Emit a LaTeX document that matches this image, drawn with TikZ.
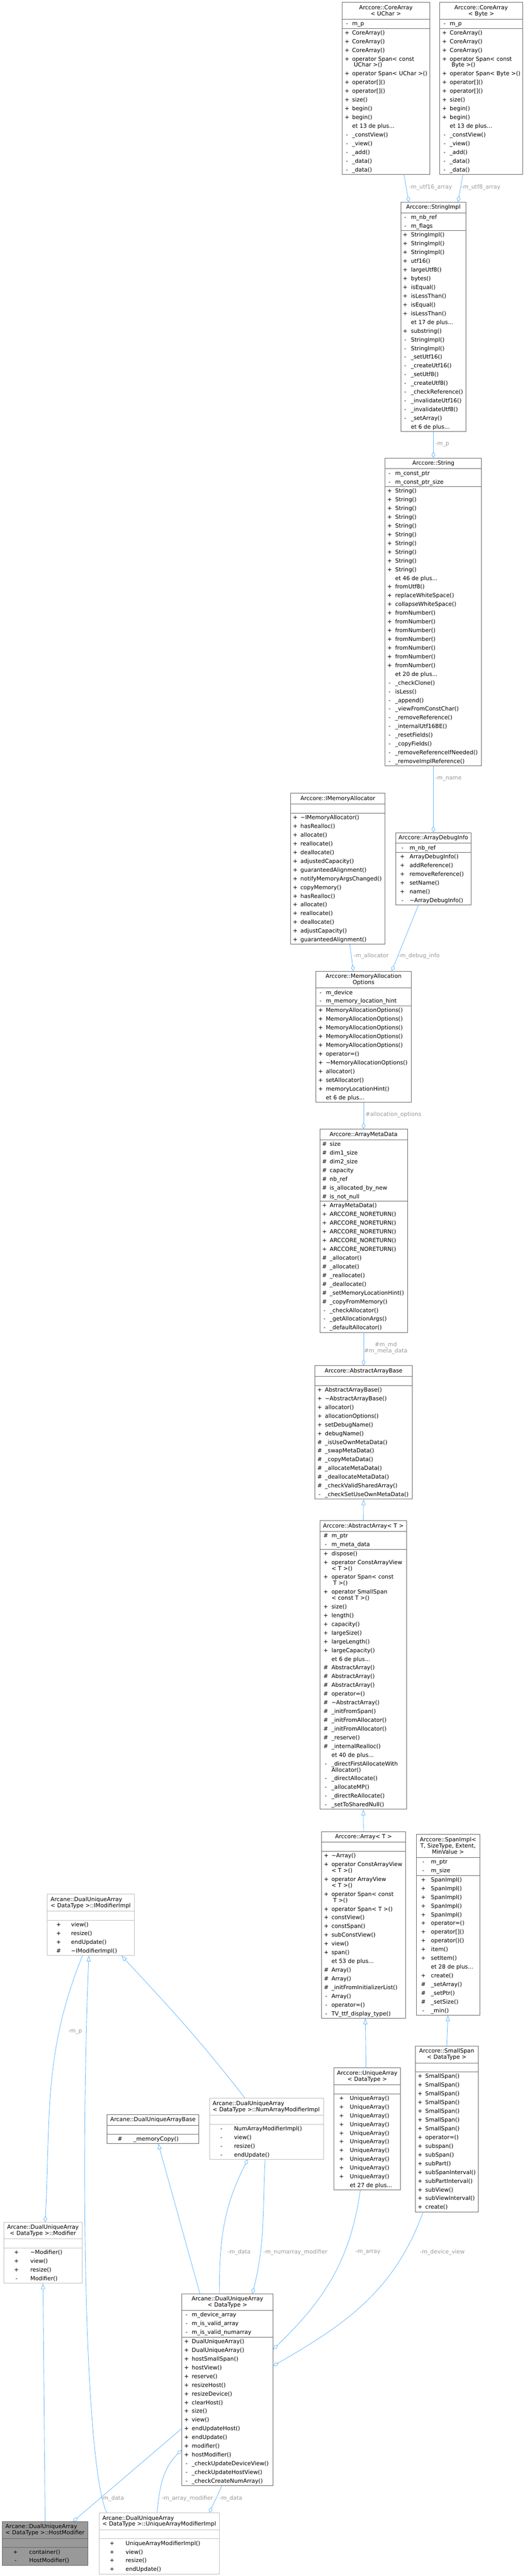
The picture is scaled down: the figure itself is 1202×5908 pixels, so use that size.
\documentclass[tikz,border=0pt]{standalone}
\usepackage{fontspec}
\setmainfont{DejaVu Sans}
\usepackage{array}
\usepackage{colortbl}
\usetikzlibrary{arrows.meta,calc}

\definecolor{edgeblue}{HTML}{63B8FF}
\definecolor{labelgray}{HTML}{9A9A9A}
\definecolor{docgray}{HTML}{666666}
\definecolor{undocgray}{HTML}{BFBFBF}
\definecolor{hostgray}{HTML}{999999}

\newdimen\pxu \pxu=0.75pt
\newlength\boxw \newlength\sgw \newlength\gapw \newlength\nmw
\setlength{\arrayrulewidth}{0.75pt}
\renewcommand{\arraystretch}{1.4286}

\newcommand{\classtab}[4]{%
  \setlength{\boxw}{#1\pxu}%
  \setlength{\sgw}{#2\pxu}\setlength{\sgw}{2\sgw}%
  \setlength{\gapw}{#3\pxu}\addtolength{\gapw}{-\sgw}%
  \setlength{\nmw}{\boxw}\addtolength{\nmw}{-#3\pxu}%
  \begin{tabular}{@{}>{\centering\arraybackslash}p{\sgw}@{\hspace{\gapw}}>{\raggedright\arraybackslash}p{\nmw}@{}}#4\end{tabular}}
\newcommand{\ttl}[1]{\multicolumn{2}{@{}>{\centering\arraybackslash}p{\boxw}@{}}{\rule{0pt}{12pt}#1\rule[-6pt]{0pt}{6pt}}\\\hline}
\newcommand{\ttll}[1]{\multicolumn{2}{@{\hspace{7.5\pxu}}>{\raggedright\arraybackslash}p{\dimexpr\boxw-7.5\pxu\relax}@{}}{\rule{0pt}{12pt}#1\rule[-6pt]{0pt}{6pt}}\\\hline}

\tikzset{
  classbox/.style={draw=docgray, line width=0.75pt, fill=white, inner sep=0pt, anchor=north west,
    font=\fontsize{9.7}{10.5}\selectfont, execute at begin node={\arrayrulecolor{docgray}}},
  undocbox/.style={classbox, draw=undocgray, execute at begin node={\arrayrulecolor{undocgray}}},
  hostbox/.style={classbox, fill=hostgray},
  inherit/.style={edgeblue, line width=0.75pt, -{Triangle[open, length=10pt, width=7pt]}},
  member/.style={edgeblue, line width=0.75pt, -{Diamond[open, length=10.5pt, width=6.5pt]}},
  edgelabel/.style={text=labelgray, font=\fontsize{9.7}{10.5}\selectfont, inner sep=0pt, anchor=west},
}

\begin{document}
\begin{tikzpicture}[x=0.75pt, y=-0.75pt]
  \useasboundingbox (0,0) rectangle (1202,5908);

  \node[classbox] (ca16) at (783,5) {\classtab{201}{11.6}{23.3}{%
    \ttl{Arccore::CoreArray\par< UChar >}
    - & m\_p\\ \hline
    + & CoreArray()\\
    + & CoreArray()\\
    + & CoreArray()\\
    + & operator Span< const\par\hspace*{4\pxu}UChar >()\\
    + & \mbox{operator Span< UChar >()}\\
    + & operator[]()\\
    + & operator[]()\\
    + & size()\\
    + & begin()\\
    + & begin()\\
      & \mbox{et 13 de plus...}\\
    - & \_constView()\\
    - & \_view()\\
    - & \_add()\\
    - & \_data()\\
    - & \_data()}};
  \node[classbox] (ca8) at (1007,5) {\classtab{190}{11}{23}{%
    \ttl{Arccore::CoreArray\par< Byte >}
    - & m\_p\\ \hline
    + & CoreArray()\\
    + & CoreArray()\\
    + & CoreArray()\\
    + & operator Span< const\par\hspace*{4\pxu}Byte >()\\
    + & \mbox{operator Span< Byte >()}\\
    + & operator[]()\\
    + & operator[]()\\
    + & size()\\
    + & begin()\\
    + & begin()\\
      & \mbox{et 13 de plus...}\\
    - & \_constView()\\
    - & \_view()\\
    - & \_add()\\
    - & \_data()\\
    - & \_data()}};
  \node[classbox] (simpl) at (918,463) {\classtab{149}{10}{23}{%
    \ttl{Arccore::StringImpl}
    - & m\_nb\_ref\\
    - & m\_flags\\ \hline
    + & StringImpl()\\
    + & StringImpl()\\
    + & StringImpl()\\
    + & utf16()\\
    + & largeUtf8()\\
    + & bytes()\\
    + & isEqual()\\
    + & isLessThan()\\
    + & isEqual()\\
    + & isLessThan()\\
      & \mbox{et 17 de plus...}\\
    + & substring()\\
    - & StringImpl()\\
    - & StringImpl()\\
    - & \_setUtf16()\\
    - & \_createUtf16()\\
    - & \_setUtf8()\\
    - & \_createUtf8()\\
    - & \_checkReference()\\
    - & \_invalidateUtf16()\\
    - & \_invalidateUtf8()\\
    - & \_setArray()\\
      & \mbox{et 6 de plus...}}};
  \node[classbox] (str) at (882,1050) {\classtab{221}{10}{23}{%
    \ttl{Arccore::String}
    - & m\_const\_ptr\\
    - & m\_const\_ptr\_size\\ \hline
    + & String()\\
    + & String()\\
    + & String()\\
    + & String()\\
    + & String()\\
    + & String()\\
    + & String()\\
    + & String()\\
    + & String()\\
    + & String()\\
      & \mbox{et 46 de plus...}\\
    + & fromUtf8()\\
    + & replaceWhiteSpace()\\
    + & collapseWhiteSpace()\\
    + & fromNumber()\\
    + & fromNumber()\\
    + & fromNumber()\\
    + & fromNumber()\\
    + & fromNumber()\\
    + & fromNumber()\\
    + & fromNumber()\\
      & \mbox{et 20 de plus...}\\
    - & \_checkClone()\\
    - & isLess()\\
    - & \_append()\\
    - & \_viewFromConstChar()\\
    - & \_removeReference()\\
    - & \_internalUtf16BE()\\
    - & \_resetFields()\\
    - & \_copyFields()\\
    - & \_removeReferenceIfNeeded()\\
    - & \_removeImplReference()}};
  \node[classbox] (imalloc) at (665,1819) {\classtab{217}{11}{23}{%
    \ttl{Arccore::IMemoryAllocator}
      & \\ \hline
    + & \textasciitilde IMemoryAllocator()\\
    + & hasRealloc()\\
    + & allocate()\\
    + & reallocate()\\
    + & deallocate()\\
    + & adjustedCapacity()\\
    + & guaranteedAlignment()\\
    + & notifyMemoryArgsChanged()\\
    + & copyMemory()\\
    + & hasRealloc()\\
    + & allocate()\\
    + & reallocate()\\
    + & deallocate()\\
    + & adjustCapacity()\\
    + & guaranteedAlignment()}};
  \node[classbox] (dbginfo) at (906,1909) {\classtab{173}{15.5}{32}{%
    \ttl{Arccore::ArrayDebugInfo}
    - & m\_nb\_ref\\ \hline
    + & ArrayDebugInfo()\\
    + & addReference()\\
    + & removeReference()\\
    + & setName()\\
    + & name()\\
    - & \textasciitilde ArrayDebugInfo()}};
  \node[classbox] (mopts) at (723,2227) {\classtab{219}{11}{23}{%
    \ttl{Arccore::MemoryAllocation\par Options}
    - & m\_device\\
    - & m\_memory\_location\_hint\\ \hline
    + & MemoryAllocationOptions()\\
    + & MemoryAllocationOptions()\\
    + & MemoryAllocationOptions()\\
    + & MemoryAllocationOptions()\\
    + & MemoryAllocationOptions()\\
    + & operator=()\\
    + & \textasciitilde MemoryAllocationOptions()\\
    + & allocator()\\
    + & setAllocator()\\
    + & memoryLocationHint()\\
      & \mbox{et 6 de plus...}}};
  \node[classbox] (amd) at (732,2589) {\classtab{201}{11}{23}{%
    \ttl{Arccore::ArrayMetaData}
    \# & size\\
    \# & dim1\_size\\
    \# & dim2\_size\\
    \# & capacity\\
    \# & nb\_ref\\
    \# & is\_allocated\_by\_new\\
    \# & is\_not\_null\\ \hline
    +  & ArrayMetaData()\\
    +  & ARCCORE\_NORETURN()\\
    +  & ARCCORE\_NORETURN()\\
    +  & ARCCORE\_NORETURN()\\
    +  & ARCCORE\_NORETURN()\\
    +  & ARCCORE\_NORETURN()\\
    \# & \_allocator()\\
    \# & \_allocate()\\
    \# & \_reallocate()\\
    \# & \_deallocate()\\
    \# & \_setMemoryLocationHint()\\
    \# & \_copyFromMemory()\\
    -  & \_checkAllocator()\\
    -  & \_getAllocationArgs()\\
    -  & \_defaultAllocator()}};
  \node[classbox] (aab) at (721,3131.5) {\classtab{223}{11}{23}{%
    \ttl{Arccore::AbstractArrayBase}
       & \\ \hline
    +  & AbstractArrayBase()\\
    +  & \textasciitilde AbstractArrayBase()\\
    +  & allocator()\\
    +  & allocationOptions()\\
    +  & setDebugName()\\
    +  & debugName()\\
    \# & \_isUseOwnMetaData()\\
    \# & \_swapMetaData()\\
    \# & \_copyMetaData()\\
    \# & \_allocateMetaData()\\
    \# & \_deallocateMetaData()\\
    \# & \_checkValidSharedArray()\\
    -  & \_checkSetUseOwnMetaData()}};
  \node[classbox] (aarr) at (733,3487) {\classtab{198}{13}{26}{%
    \ttl{Arccore::AbstractArray< T >}
    \# & m\_ptr\\
    -  & m\_meta\_data\\ \hline
    +  & dispose()\\
    +  & operator ConstArrayView\par < T >()\\
    +  & operator Span< const\par\hspace*{4\pxu}T >()\\
    +  & operator SmallSpan\par < const T >()\\
    +  & size()\\
    +  & length()\\
    +  & capacity()\\
    +  & largeSize()\\
    +  & largeLength()\\
    +  & largeCapacity()\\
       & \mbox{et 6 de plus...}\\
    \# & AbstractArray()\\
    \# & AbstractArray()\\
    \# & AbstractArray()\\
    \# & operator=()\\
    \# & \textasciitilde AbstractArray()\\
    \# & \_initFromSpan()\\
    \# & \_initFromAllocator()\\
    \# & \_initFromAllocator()\\
    \# & \_reserve()\\
    \# & \_internalRealloc()\\
       & \mbox{et 40 de plus...}\\
    -  & \_directFirstAllocateWith\par Allocator()\\
    -  & \_directAllocate()\\
    -  & \_allocateMP()\\
    -  & \_directReAllocate()\\
    -  & \_setToSharedNull()}};
  \node[classbox] (arr) at (736,4200) {\classtab{193}{11}{23}{%
    \ttl{Arccore::Array< T >}
       & \\ \hline
    +  & \textasciitilde Array()\\
    +  & operator ConstArrayView\par < T >()\\
    +  & operator ArrayView\par < T >()\\
    +  & operator Span< const\par\hspace*{4\pxu}T >()\\
    +  & \mbox{operator Span< T >()}\\
    +  & constView()\\
    +  & constSpan()\\
    +  & subConstView()\\
    +  & view()\\
    +  & span()\\
       & \mbox{et 53 de plus...}\\
    \# & Array()\\
    \# & Array()\\
    \# & \_initFromInitializerList()\\
    -  & Array()\\
    -  & operator=()\\
    -  & TV\_ttf\_display\_type()}};
  \node[classbox] (spanimpl) at (953,4207) {\classtab{146}{16.5}{34}{%
    \ttl{\mbox{Arccore::SpanImpl<}\par\mbox{T, SizeType, Extent,}\par\mbox{MinValue >}}
    -  & m\_ptr\\
    -  & m\_size\\ \hline
    +  & SpanImpl()\\
    +  & SpanImpl()\\
    +  & SpanImpl()\\
    +  & SpanImpl()\\
    +  & SpanImpl()\\
    +  & operator=()\\
    +  & operator[]()\\
    +  & operator()()\\
    +  & item()\\
    +  & setItem()\\
       & \mbox{et 28 de plus...}\\
    +  & create()\\
    \# & \_setArray()\\
    \# & \_setPtr()\\
    \# & \_setSize()\\
    -  & \_min()}};
  \node[classbox] (uarr) at (765,4742) {\classtab{152}{17}{36}{%
    \ttl{Arccore::UniqueArray\par< DataType >}
       & \\ \hline
    +  & UniqueArray()\\
    +  & UniqueArray()\\
    +  & UniqueArray()\\
    +  & UniqueArray()\\
    +  & UniqueArray()\\
    +  & UniqueArray()\\
    +  & UniqueArray()\\
    +  & UniqueArray()\\
    +  & UniqueArray()\\
    +  & UniqueArray()\\
       & \mbox{et 27 de plus...}}};
  \node[classbox] (sspan) at (951,4692) {\classtab{144}{11}{23}{%
    \ttl{Arccore::SmallSpan\par< DataType >}
       & \\ \hline
    +  & SmallSpan()\\
    +  & SmallSpan()\\
    +  & SmallSpan()\\
    +  & SmallSpan()\\
    +  & SmallSpan()\\
    +  & SmallSpan()\\
    +  & SmallSpan()\\
    +  & operator=()\\
    +  & subspan()\\
    +  & subSpan()\\
    +  & subPart()\\
    +  & subSpanInterval()\\
    +  & subPartInterval()\\
    +  & subView()\\
    +  & subViewInterval()\\
    +  & create()}};
  \node[undocbox] (imod) at (108,4344) {\classtab{199}{26}{54.5}{%
    \ttll{Arcane::DualUniqueArray\par\mbox{< DataType >::IModifierImpl}}
       & \\ \hline
    +  & view()\\
    +  & resize()\\
    +  & endUpdate()\\
    \# & \textasciitilde IModifierImpl()}};
  \node[classbox] (dbase) at (244.5,4849) {\classtab{211}{30}{61}{%
    \ttl{Arcane::DualUniqueArrayBase}
       & \\ \hline
    \# & \_memoryCopy()}};
  \node[undocbox] (numimpl) at (479.3,4812) {\classtab{261.4}{27.4}{56.4}{%
    \ttll{Arcane::DualUniqueArray\par\mbox{< DataType >::NumArrayModifierImpl}}
       & \\ \hline
    -  & NumArrayModifierImpl()\\
    -  & view()\\
    -  & resize()\\
    -  & endUpdate()}};
  \node[undocbox] (modif) at (8.4,5096) {\classtab{179}{29}{60.6}{%
    \ttl{Arcane::DualUniqueArray\par\mbox{< DataType >::Modifier}}
       & \\ \hline
    +  & \textasciitilde Modifier()\\
    +  & view()\\
    +  & resize()\\
    -  & Modifier()}};
  \node[classbox] (dua) at (416,5260) {\classtab{209}{11}{23}{%
    \ttl{Arcane::DualUniqueArray\par< DataType >}
    -  & m\_device\_array\\
    -  & m\_is\_valid\_array\\
    -  & m\_is\_valid\_numarray\\ \hline
    +  & DualUniqueArray()\\
    +  & DualUniqueArray()\\
    +  & hostSmallSpan()\\
    +  & hostView()\\
    +  & reserve()\\
    +  & resizeHost()\\
    +  & resizeDevice()\\
    +  & clearHost()\\
    +  & size()\\
    +  & view()\\
    +  & endUpdateHost()\\
    +  & endUpdate()\\
    +  & modifier()\\
    +  & hostModifier()\\
    -  & \_checkUpdateDeviceView()\\
    -  & \_checkUpdateHostView()\\
    -  & \_checkCreateNumArray()}};
  \node[hostbox] (hostmod) at (4.7,5782.7) {\classtab{196.6}{30.3}{61.6}{%
    \ttll{Arcane::DualUniqueArray\par\mbox{< DataType >::HostModifier}}
       & \\ \hline
    +  & container()\\
    -  & HostModifier()}};
  \node[undocbox] (uimpl) at (226.7,5762.7) {\classtab{275.6}{29.6}{60.6}{%
    \ttll{Arcane::DualUniqueArray\par\mbox{< DataType >::UniqueArrayModifierImpl}}
       & \\ \hline
    +  & UniqueArrayModifierImpl()\\
    +  & view()\\
    +  & resize()\\
    +  & endUpdate()}};

  \begin{scope}[inherit]
    \draw (aarr.north) to (aab.south);
    \draw (arr.north) to (aarr.south);
    \draw ($(uarr.north)+(-3,0)$) to ($(arr.south)+(4,0)$);
    \draw (sspan.north) to (spanimpl.south);
    \draw (hostmod.north) to (modif.south);
    \draw ($(dua.north)+(-63,0)$) to ($(dbase.south)+(12,0)$);
    \draw ($(numimpl.north)+(-49,0)$) to[out=128, in=-47] ($(imod.south)+(70,0)$);
    \draw ($(uimpl.north)+(-120.5,0)$) .. controls +(-50,-110) and +(-20,500) .. ($(imod.south)+(-4.5,0)$);
  \end{scope}
  \begin{scope}[member]
    \draw ($(ca16.south)+(41.5,0)$) to ($(simpl.north)+(-56.5,0)$);
    \draw ($(ca8.south)+(-42,0)$) to ($(simpl.north)+(56.5,0)$);
    \draw (simpl.south) to (str.north);
    \draw (str.south) to (dbginfo.north);
    \draw ($(imalloc.south)+(27.5,0)$) to ($(mopts.north)+(-23.5,0)$);
    \draw ($(dbginfo.south)+(-34.5,0)$) to ($(mopts.north)+(64.5,0)$);
    \draw (mopts.south) to (amd.north);
    \draw (amd.south) to (aab.north);
    \draw ($(imod.south)+(-19,0)$) to[out=248, in=87] ($(modif.north)+(5,0)$);
    \draw ($(dua.north)+(-18.5,0)$) to[out=90, in=-117] ($(numimpl.south)+(-43,0)$);
    \draw ($(numimpl.south)+(-3,0)$) to[out=-93, in=76] ($(dua.north)+(57.5,0)$);
    \draw ($(uarr.south)+(-16,0)$) to[out=-98, in=44] ($(dua.north east)+(0,128)$);
    \draw ($(sspan.south)+(-54,0)$) to[out=-110, in=30] ($(dua.north east)+(0,166)$);
    \draw ($(dua.north west)+(0,310)$) to ($(hostmod.north)+(64,0)$);
    \draw ($(uimpl.north)+(-5,0)$) to[out=85, in=225] ($(dua.north west)+(0,359)$);
    \draw ($(dua.south)+(-13,0)$) to[out=-112, in=65] ($(uimpl.north)+(114.5,0)$);
  \end{scope}

  \node[edgelabel] (lutf16) at (937,430) {-m\_utf16\_array};
  \node[edgelabel] (lutf8) at (1056,430) {-m\_utf8\_array};
  \node[edgelabel] (lp) at (997,1019) {-m\_p};
  \node[edgelabel] (lname) at (997,1786) {-m\_name};
  \node[edgelabel] (lalloc) at (810,2193) {-m\_allocator};
  \node[edgelabel] (ldebug) at (912,2193) {-m\_debug\_info};
  \node[edgelabel] (lopts) at (837,2556) {\#allocation\_options};
  \node[edgelabel, anchor=center, align=center] (lmd) at (884,3091.5) {\#m\_md\\\#m\_meta\_data};
  \node[edgelabel] (lmodp) at (156,4660) {-m\_p};
  \node[edgelabel] (lnumdata) at (521,5165) {-m\_data};
  \node[edgelabel] (lnummod) at (603,5165) {-m\_numarray\_modifier};
  \node[edgelabel] (larray) at (814,5165) {-m\_array};
  \node[edgelabel] (ldevview) at (962,5165) {-m\_device\_view};
  \node[edgelabel] (lhostdata) at (231,5730) {-m\_data};
  \node[edgelabel] (larrmod) at (370,5730) {-m\_array\_modifier};
  \node[edgelabel] (luimpldata) at (502,5730) {-m\_data};
\end{tikzpicture}
\end{document}
